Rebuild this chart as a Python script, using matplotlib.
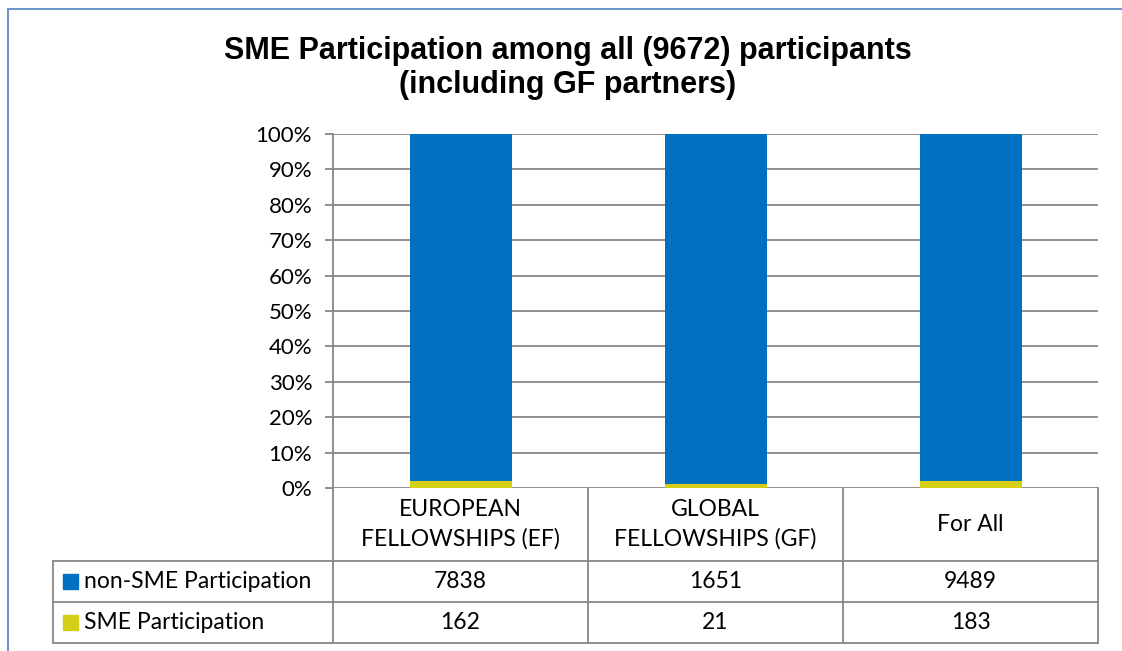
import matplotlib.pyplot as plt
from matplotlib.patches import Rectangle
from matplotlib.transforms import blended_transform_factory

categories = ["EUROPEAN\nFELLOWSHIPS (EF)", "GLOBAL\nFELLOWSHIPS (GF)", "For All"]
series_names = ["non-SME Participation", "SME Participation"]
non_sme = [7838, 1651, 9489]
sme = [162, 21, 183]
colors = ["#0070C0", "#D4CF16"]
yticks = [0, 10, 20, 30, 40, 50, 60, 70, 80, 90, 100]

W, H = 1122, 651
fig = plt.figure(figsize=(W / 100, H / 100), dpi=100)
font = "Lato"
fs = 16.5

# chart border
fig.patches.append(Rectangle((8 / W, -0.1), 1.2, (H - 9) / H + 0.1,
                             transform=fig.transFigure, fill=False,
                             edgecolor="#6C95C9", linewidth=1.5))

fig.text(568 / W, 1 - 51 / H, "SME Participation among all (9672) participants",
         ha="center", va="center", fontsize=22, fontweight="bold",
         family="Liberation Sans")
fig.text(568 / W, 1 - 85 / H, "(including GF partners)",
         ha="center", va="center", fontsize=22, fontweight="bold",
         family="Liberation Sans")

left, right, top, bottom = 333, 1098, 134, 488
ax = fig.add_axes([left / W, 1 - bottom / H, (right - left) / W, (bottom - top) / H])

totals = [a + b for a, b in zip(non_sme, sme)]
pct_sme = [100 * b / t for b, t in zip(sme, totals)]
pct_non = [100 * a / t for a, t in zip(non_sme, totals)]
x = list(range(len(categories)))
ax.bar(x, pct_sme, width=0.4, color=colors[1], zorder=3)
ax.bar(x, pct_non, width=0.4, bottom=pct_sme, color=colors[0], zorder=3)

ax.set_xlim(-0.5, len(categories) - 0.5)
ax.set_ylim(0, 100)
ax.set_yticks(yticks)
ax.set_yticklabels([f"{v}%" for v in yticks], family=font, fontsize=16)
ax.set_xticks([])
ax.grid(axis="y", color="#878787", linewidth=1.3, zorder=0)
for s in ["top", "right", "bottom"]:
    ax.spines[s].set_visible(False)
ax.spines["left"].set_color("#878787")
ax.spines["left"].set_linewidth(1.3)
ax.tick_params(axis="y", length=6, color="#878787", width=1.3, pad=9)

# data table below the axes
ph = bottom - top


def ay(py):
    return (bottom - py) / ph


def hline(x0, x1, py):
    fig.add_artist(plt.Line2D([x0 / W, x1 / W], [1 - py / H, 1 - py / H],
                              transform=fig.transFigure, color="#878787", linewidth=1.3))


def vline(px, y0, y1):
    fig.add_artist(plt.Line2D([px / W, px / W], [1 - y0 / H, 1 - y1 / H],
                              transform=fig.transFigure, color="#878787", linewidth=1.3))


row_y = [bottom, 561, 602, 643]
tr = blended_transform_factory(ax.transData, ax.transAxes)
for i in range(len(categories) + 1):
    ax.plot([i - 0.5, i - 0.5], [0, ay(row_y[-1])], transform=tr,
            color="#878787", linewidth=1.3, clip_on=False)
hline(53, right, 561)
hline(53, right, 602)
hline(53, right, 643)
vline(53, 561, 643)

for i, c in enumerate(categories):
    ax.text(i, ay((row_y[0] + row_y[1]) / 2), c, transform=tr, ha="center",
            va="center", family=font, fontsize=fs, linespacing=1.45)
for r, vals in enumerate([non_sme, sme]):
    yc = ay((row_y[r + 1] + row_y[r + 2]) / 2)
    for i, v in enumerate(vals):
        ax.text(i, yc, str(v), transform=tr, ha="center", va="center",
                family=font, fontsize=fs)
    pyc = (row_y[r + 1] + row_y[r + 2]) / 2
    fig.add_artist(Rectangle((63 / W, 1 - (pyc + 7.5) / H), 15 / W, 15 / H,
                             transform=fig.transFigure, color=colors[r]))
    fig.text(84 / W, 1 - pyc / H, series_names[r], ha="left", va="center",
             family=font, fontsize=fs)

fig.savefig("out.png", dpi=100)
